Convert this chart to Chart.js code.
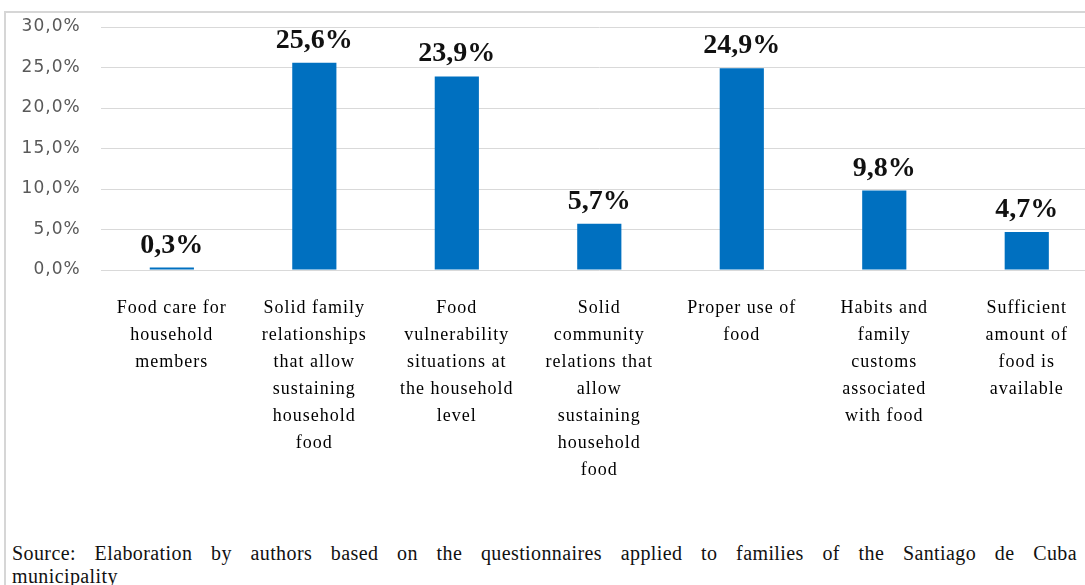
<!DOCTYPE html>
<html>
<head>
<meta charset="utf-8">
<script src="https://cdn.jsdelivr.net/npm/chart.js@4"></script>
<style>
    html, body { margin: 0; padding: 0; background: #fff; overflow: hidden; width: 1085px; height: 585px; }
    #frame { position: absolute; left: 4px; top: 11px; width: 1200px; height: 700px; border: 2px solid #d6d6d6; }
    #wrap { position: absolute; left: 6px; top: 13px; width: 1100px; height: 500px; }
    #source { position: absolute; left: 12px; top: 542px; width: 1065px; font-family: "Liberation Serif", serif; font-size: 20px; line-height: 23px; letter-spacing: 0.4px; color: #111; }
    #source .l1 { text-align: justify; text-align-last: justify; }
</style>
</head>
<body>
<div id="frame"></div>
<div id="wrap"><canvas id="chart"></canvas></div>
<div id="source">
    <div class="l1">Source: Elaboration by authors based on the questionnaires applied to families of the Santiago de Cuba</div>
    <div>municipality</div>
</div>
<script>
// categorie (gia spezzate su piu righe)
const categories = [
    ["Food care for", "household", "members"],
    ["Solid family", "relationships", "that allow", "sustaining", "household", "food"],
    ["Food", "vulnerability", "situations at", "the household", "level"],
    ["Solid", "community", "relations that", "allow", "sustaining", "household", "food"],
    ["Proper use of", "food"],
    ["Habits and", "family", "customs", "associated", "with food"],
    ["Sufficient", "amount of", "food is", "available"],
]
const values = [0.3, 25.6, 23.9, 5.7, 24.9, 9.8, 4.7]
const yTicks = [0, 5, 10, 15, 20, 25, 30]

function pct(v) {
    return v.toFixed(1).replace(".", ",") + "%"
}

// spaziatura lettere per le etichette degli assi
const spacing = {
    id: "spacing",
    beforeDraw(chart) { chart.ctx.letterSpacing = "1px" },
    beforeDatasetsDraw(chart) { chart.ctx.letterSpacing = "0px" },
}

// etichette sopra le barre
const barLabels = {
    id: "barLabels",
    afterDatasetsDraw(chart) {
        const ctx = chart.ctx
        const meta = chart.getDatasetMeta(0)
        ctx.save()
        ctx.font = "bold 28px 'Liberation Serif', serif"
        ctx.fillStyle = "#111"
        ctx.textAlign = "center"
        ctx.textBaseline = "alphabetic"
        meta.data.forEach((bar, i) => {
            ctx.fillText(pct(values[i]), bar.x, bar.y - 15)
        })
        ctx.restore()
    },
}

function main() {
    new Chart(document.getElementById("chart"), {
        type: "bar",
        data: {
            labels: categories,
            datasets: [
                {
                    data: values,
                    backgroundColor: "#0070c0",
                    borderWidth: 0,
                    barPercentage: 0.31,
                    categoryPercentage: 1,
                },
            ],
        },
        options: {
            responsive: true,
            maintainAspectRatio: false,
            animation: false,
            layout: { padding: { top: 14, right: 8, left: 0, bottom: 0 } },
            scales: {
                x: {
                    grid: { display: false },
                    border: { display: false },
                    ticks: {
                        color: "#000",
                        padding: 17,
                        maxRotation: 0,
                        autoSkip: false,
                        font: { family: "'Liberation Serif', serif", size: 18, lineHeight: "27px" },
                    },
                    afterFit(axis) { axis.height = 243 },
                },
                y: {
                    min: 0,
                    max: 30,
                    afterBuildTicks(axis) { axis.ticks = yTicks.map(v => ({ value: v })) },
                    grid: { color: "#d9d9d9", drawTicks: false },
                    border: { display: false },
                    ticks: {
                        color: "#595959",
                        padding: 20,
                        font: { family: "'DejaVu Sans', sans-serif", size: 17 },
                        callback: v => pct(v),
                    },
                    afterFit(axis) {
                        axis.width = 94.6
                        axis.paddingTop = 0
                        axis.paddingBottom = 0
                    },
                },
            },
            plugins: {
                legend: { display: false },
                tooltip: { enabled: false },
            },
        },
        plugins: [spacing, barLabels],
    })
}

document.addEventListener("DOMContentLoaded", main)
</script>
</body>
</html>
